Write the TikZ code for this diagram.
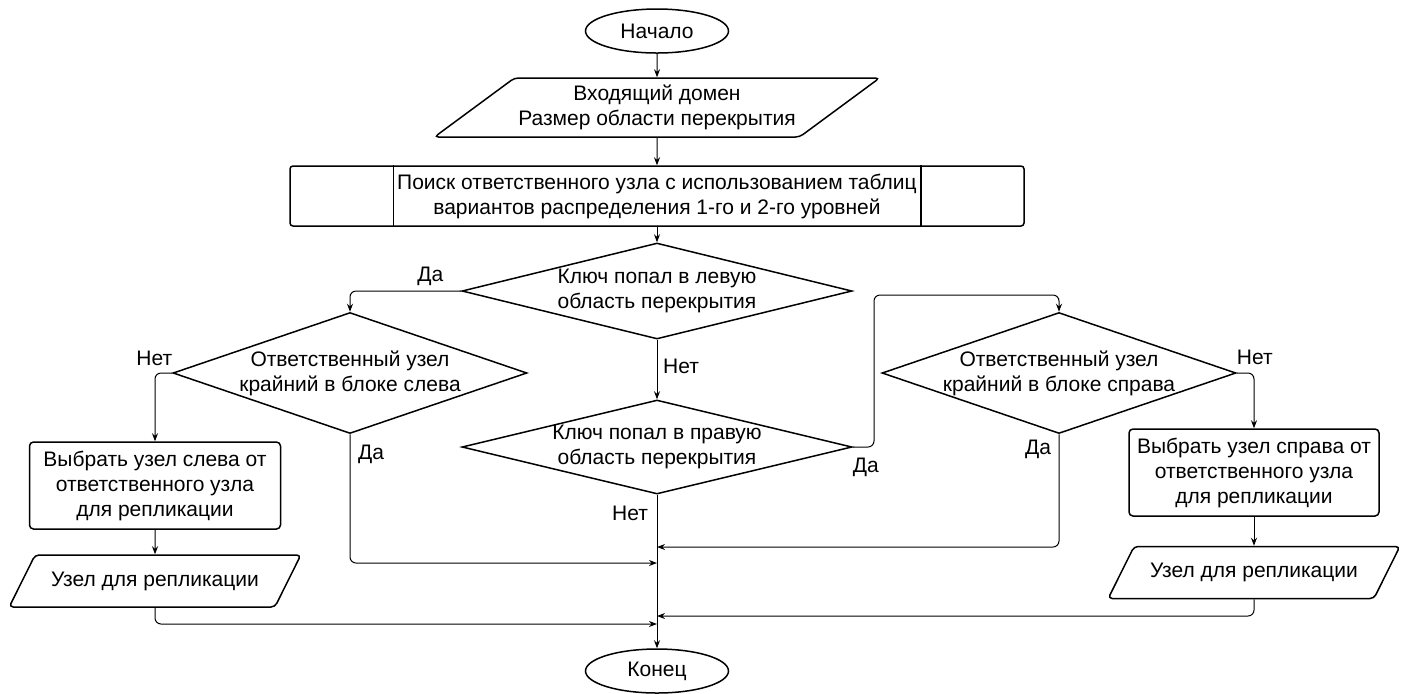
\documentclass[tikz,border=0pt]{standalone}
\usepackage{fontspec}
\setmainfont{Liberation Sans}
\usetikzlibrary{shapes.geometric,arrows.meta,positioning}
\tikzset{
    term-box/.style = {draw, ellipse, line width=0.75pt, minimum width=71.5pt, minimum height=22pt, inner sep=0pt},
    io-box/.style = {draw, trapezium, trapezium stretches=true, line width=0.75pt, rounded corners=2pt, align=center, inner sep=0pt},
    proc-box/.style = {draw, rectangle, rounded corners=2pt, line width=0.75pt, align=center, inner sep=0pt},
    cond-box/.style = {draw, diamond, line width=0.75pt, align=center, inner sep=-1pt},
    lbl-text/.style = {inner sep=0pt},
    flow-line/.style = {-{Stealth[length=4pt,width=3pt]}, line width=0.5pt, rounded corners=3pt},
}

\begin{document}
\begin{tikzpicture}[x=0.5pt, y=-0.5pt, font=\fontsize{10.5pt}{12.5pt}\selectfont]
\useasboundingbox (0,0) rectangle (1410,693);

\node[term-box] (start) at (657,31) {Начало};
\node[io-box, trapezium left angle=30, trapezium right angle=150, minimum width=223pt, minimum height=29.5pt] (inp) at (657,107.5) {Входящий домен\\Размер области перекрытия};
\node[proc-box, rounded corners=1.5pt, minimum width=367pt, minimum height=30pt] (srch) at (657,196) {Поиск ответственного узла с использованием таблиц\\вариантов распределения 1-го и 2-го уровней};
\draw[line width=0.75pt] ([xshift=52pt]srch.north west) -- ([xshift=52pt]srch.south west);
\draw[line width=0.75pt] ([xshift=-52pt]srch.north east) -- ([xshift=-52pt]srch.south east);

\node[cond-box, aspect=4.06, minimum width=195pt, minimum height=48pt] (d1) at (657,291) {Ключ попал в левую\\область перекрытия};
\node[cond-box, aspect=4.15, minimum width=195pt, minimum height=47pt] (d2) at (657,447) {Ключ попал в правую\\область перекрытия};
\node[cond-box, aspect=2.93, minimum width=177pt, minimum height=60.5pt] (dl) at (350,373) {Ответственный узел\\крайний в блоке слева};
\node[cond-box, aspect=2.93, minimum width=177pt, minimum height=60.5pt] (dr) at (1059,373) {Ответственный узел\\крайний в блоке справа};

\node[proc-box, minimum width=125.5pt, minimum height=43.5pt] (bl) at (155,485.5) {Выбрать узел слева от\\ответственного узла\\для репликации};
\node[proc-box, minimum width=125pt, minimum height=43.5pt] (br) at (1254,472.5) {Выбрать узел справа от\\ответственного узла\\для репликации};
\node[io-box, trapezium left angle=40, trapezium right angle=140, minimum width=146pt, minimum height=26pt] (pl) at (155,581) {Узел для репликации};
\node[io-box, trapezium left angle=40, trapezium right angle=140, minimum width=146pt, minimum height=26pt] (pr) at (1254,572.5) {Узел для репликации};

\node[term-box] (fin) at (657,671) {Конец};

\coordinate (jog) at (874,295);
\coordinate (m1) at (657,547);
\coordinate (m2) at (657,563);
\coordinate (m3) at (657,616);
\coordinate (m4) at (657,624);

% connectors
\draw[flow-line] (start) -- (inp);
\draw[flow-line] (inp) -- (srch);
\draw[flow-line] (srch) -- (d1);
\draw[flow-line] (d1.west) -| (dl.north);
\draw[flow-line] (dl.west) -| (bl.north);
\draw[flow-line] (bl) -- (pl);
\draw[flow-line] (d1) -- (d2);
\draw[flow-line] (d2.east) -| (jog) -| (dr.north);
\draw[flow-line] (dr.east) -| (br.north);
\draw[flow-line] (br) -- (pr);
\draw[flow-line] (d2) -- (fin);
\draw[flow-line] (dr.south) |- (m1);
\draw[flow-line] (dl.south) |- (m2);
\draw[flow-line] (pr.south) |- (m3);
\draw[flow-line] (pl.south) |- (m4);

% branch labels
\node[lbl-text] (yes-d1) at ([shift={(-31,-15)}]d1.west) {Да};
\node[lbl-text] (no-d1) at ([shift={(24,27)}]d1.south) {Нет};
\node[lbl-text] (no-dl) at ([shift={(-18,-15)}]dl.west) {Нет};
\node[lbl-text] (yes-dl) at ([shift={(21,20)}]dl.south) {Да};
\node[lbl-text] (yes-d2) at ([shift={(13,20)}]d2.east) {Да};
\node[lbl-text] (no-d2) at ([shift={(-27,19)}]d2.south) {Нет};
\node[lbl-text] (yes-dr) at ([shift={(-21,15)}]dr.south) {Да};
\node[lbl-text] (no-dr) at ([shift={(18,-16)}]dr.east) {Нет};
\end{tikzpicture}
\end{document}
